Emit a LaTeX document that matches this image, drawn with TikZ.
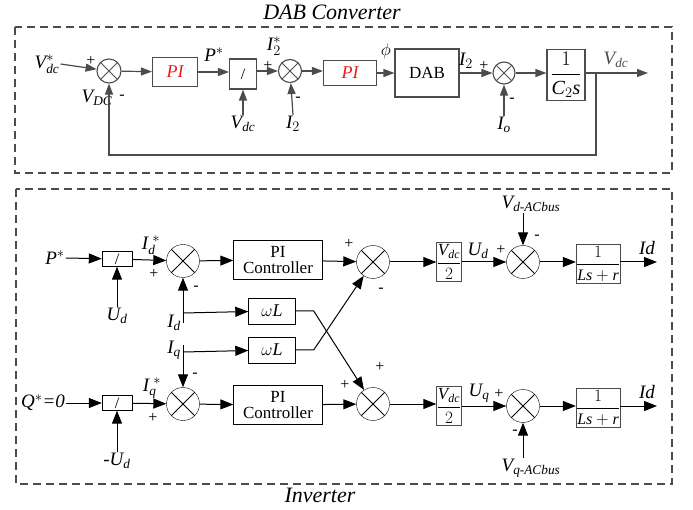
\documentclass[tikz,border=0pt]{standalone}
\usepackage{amsmath}
\usepackage{fontspec}
\setmainfont{Liberation Serif}
\usepackage{tikz}
\usetikzlibrary{arrows.meta,positioning,calc}
\definecolor{dgray}{rgb}{0.3,0.3,0.3}
\definecolor{pired}{rgb}{0.92,0.1,0.1}
\tikzset{
    sumnode/.style={
    circle,draw,inner sep=0pt,minimum size=#1,
    path picture={\draw[line width=0.8pt] (path picture bounding box.north west) -- (path picture bounding box.south east)
      (path picture bounding box.north east) -- (path picture bounding box.south west);}
    },
    blk/.style={
    rectangle,draw,inner sep=0pt,align=center
    },
    lbl/.style={inner sep=1pt,font=\fontsize{19}{21}\selectfont},
    sign/.style={inner sep=0pt,font=\fontsize{16}{17}\selectfont},
    title/.style={font=\fontsize{22}{24}\selectfont\itshape},
  gline/.style={draw=dgray, line width=1.2pt, -{Triangle[length=11pt,width=8pt]}},
  bline/.style={draw=black, line width=1pt, -{Triangle[length=13pt,width=10pt]}},
  frame/.style={draw=dgray, line width=1.3pt, dash pattern=on 8pt off 5pt},
}

\begin{document}
\begin{tikzpicture}[x=1pt,y=-1pt,font=\fontsize{16}{19}\selectfont]
\useasboundingbox (0,0) rectangle (693,510);

% frames and titles
\draw[frame] (15,27) rectangle (672,173);
\draw[frame] (16,189) rectangle (672,484);
\node[title] (ttop) at (332,12) {DAB Converter};
\node[title] (tbot) at (320,495) {Inverter};

% ---- DAB converter loop
\begin{scope}[every node/.append style={draw=dgray,line width=1.1pt}]
  \node[sumnode=24pt] (s1) at (109,71) {};
  \node[blk,minimum width=45pt,minimum height=29pt,text=pired,font=\fontsize{18}{20}\selectfont\itshape] (pi1) at (175,72) {PI};
  \node[blk,minimum width=27pt,minimum height=30pt] (div1) at (243,74) {/};
  \node[sumnode=23pt] (s2) at (290,71) {};
  \node[blk,minimum width=53pt,minimum height=25pt,text=pired,font=\fontsize{18}{20}\selectfont\itshape] (pi2) at (350,73) {PI};
  \node[blk,minimum width=64pt,minimum height=48pt,font=\fontsize{17}{19}\selectfont] (dab) at (427,73) {DAB};
  \node[sumnode=22pt] (s3) at (504,73) {};
  \node[blk,minimum width=38pt,minimum height=51pt,font=\fontsize{20}{22}\selectfont] (cs) at (566,75) {$\dfrac{1}{\textit{C}_{2}\textit{s}}$};
\end{scope}
\node[lbl] (vref) at (47,64) {$\textit{V}^{*}_{\textit{dc}}$};
\node[lbl] (vdc1) at (243,124) {$\textit{V}_{\textit{dc}}$};
\node[lbl] (i2) at (293,124) {$\textit{I}_{2}$};
\node[lbl] (io) at (504,125) {$\textit{I}_{\textit{o}}$};
\node[lbl] (pstar) at (214,55) {$\textit{P}^{*}$};
\node[lbl] (i2star) at (274,46) {$\textit{I}^{*}_{2}$};
\node[lbl] (phi) at (386,51) {$\phi$};
\node[lbl] (i2out) at (466,61) {$\textit{I}_{2}$};
\node[lbl,text=dgray] (vdcout) at (616,60) {$\textit{V}_{\textit{dc}}$};
\node[lbl] (vdcfb) at (97,98) {$\textit{V}_{\textit{DC}}$};
\node[sign] at (91,61) {+};
\node[sign] at (122,97) {-};
\node[sign] at (268,66) {+};
\node[sign] at (298,99) {-};
\node[sign] at (484,66) {+};
\node[sign] at (512,100) {-};
\coordinate (br) at (596,73);
\coordinate (vout) at (648,73);
\coordinate (fb) at (596,155);

\draw[gline] (vref.east) -- (s1);
\draw[gline] (s1) -- (pi1);
\draw[gline] (pi1) -- (div1.west |- pi1);
\draw[gline] (vdc1.north) -- (div1);
\draw[gline] (div1.east |- s2) -- (s2);
\draw[gline] (i2.north) -- (s2);
\draw[gline] (s2) -- (pi2.west |- s2);
\draw[gline] (pi2) -- (dab);
\draw[gline] (dab) -- (s3);
\draw[gline] (io.north) -- (s3);
\draw[gline] (s3) -- (cs.west |- s3);
\draw[gline] (cs.east |- s3) -- (vout);
\draw[gline] (br) -- (fb) -| (s1.south);

% ---- inverter current loops
\node[blk,minimum width=30pt,minimum height=15pt] (divd) at (117,259) {/};
\node[sumnode=33pt] (sd1) at (183,261) {};
\node[blk,minimum width=89pt,minimum height=39pt,font=\fontsize{17}{19}\selectfont] (pid) at (278,260) {PI\\[-3pt]Controller};
\node[sumnode=33pt] (sd2) at (373,262) {};
\node[blk,draw=dgray,minimum width=25pt,minimum height=39pt,font=\fontsize{17}{19}\selectfont] (vd2d) at (449,262) {$\dfrac{\textit{V}_{\textit{dc}}}{2}$};
\node[sumnode=33pt] (sd3) at (523,262) {};
\node[blk,draw=dgray,minimum width=39pt,minimum height=39pt] (lsd) at (598,264) {$\dfrac{1}{\textit{Ls}+\textit{r}}$};
\node[blk,minimum width=47pt,minimum height=26pt,font=\fontsize{18}{20}\selectfont] (wl1) at (272,311) {$\omega \textit{L}$};
\node[blk,minimum width=47pt,minimum height=26pt,font=\fontsize{18}{20}\selectfont] (wl2) at (272,350) {$\omega \textit{L}$};
\node[blk,minimum width=30pt,minimum height=15pt] (divq) at (117,403) {/};
\node[sumnode=33pt] (sq1) at (183,404) {};
\node[blk,minimum width=89pt,minimum height=39pt,font=\fontsize{17}{19}\selectfont] (piq) at (278,405) {PI\\[-3pt]Controller};
\node[sumnode=33pt] (sq2) at (373,404) {};
\node[blk,draw=dgray,minimum width=25pt,minimum height=39pt,font=\fontsize{17}{19}\selectfont] (vd2q) at (449,406) {$\dfrac{\textit{V}_{\textit{dc}}}{2}$};
\node[sumnode=33pt] (sq3) at (523,406) {};
\node[blk,draw=dgray,minimum width=39pt,minimum height=39pt] (lsq) at (598,408) {$\dfrac{1}{\textit{Ls}+\textit{r}}$};

\node[lbl] (pref) at (55,258) {$\textit{P}^{*}$};
\node[lbl] (ud) at (117,316) {$\textit{U}_{\textit{d}}$};
\node[lbl] (idstar) at (151,245) {$\textit{I}_{\textit{d}}^{\;*}$};
\node[lbl] (udout) at (478,251) {$\textit{U}_{\textit{d}}$};
\node[lbl] (vdac) at (531,204) {$\textit{V}_{\textit{d-ACbus}}$};
\node[lbl] (idout1) at (647,248) {\textit{Id}};
\node[lbl] (idl) at (174,323) {$\textit{I}_{\textit{d}}$};
\node[lbl] (iql) at (174,350) {$\textit{I}_{\textit{q}}$};
\node[lbl] (qref) at (43,403) {\textit{Q}$^{*}$\textit{=0}};
\node[lbl] (mud) at (117,461) {-$\textit{U}_{\textit{d}}$};
\node[lbl] (iqstar) at (152,388) {$\textit{I}_{\textit{q}}^{\;*}$};
\node[lbl] (uqout) at (479,393) {$\textit{U}_{\textit{q}}$};
\node[lbl] (vqac) at (531,468) {$\textit{V}_{\textit{q-ACbus}}$};
\node[lbl] (idout2) at (647,392) {\textit{Id}};

\node[sign] at (154,274) {+};
\node[sign] at (196,288) {-};
\node[sign] at (349,244) {+};
\node[sign] at (381,290) {-};
\node[sign] at (501,250) {+};
\node[sign] at (537,237) {-};
\node[sign] at (153,418) {+};
\node[sign] at (195,375) {-};
\node[sign] at (345,385) {+};
\node[sign] at (380,367) {+};
\node[sign] at (499,394) {+};
\node[sign] at (515,432) {-};

\coordinate (idb) at (183,323);
\coordinate (idj) at (183,313);
\coordinate (iqt) at (183,345);
\coordinate (iqj) at (183,352);
\coordinate (od) at (657,262);
\coordinate (oq) at (657,406);

\draw[bline] (pref.east) -- (divd);
\draw[bline] (ud.north) -- (divd);
\draw[bline] (divd) -- (sd1);
\draw[bline] (sd1) -- (pid);
\draw[bline] (pid) -- (sd2);
\draw[bline] (sd2) -- (vd2d);
\draw[bline] (vd2d) -- (sd3);
\draw[bline] (sd3 |- vdac.south) -- (sd3);
\draw[bline] (sd3) -- (lsd.west |- sd3);
\draw[bline] (lsd.east |- sd3) -- (od);
\draw[bline] (idb) -- (sd1);
\draw[bline] (idj) -- (wl1);
\draw[bline] (iqt) -- (sq1);
\draw[bline] (iqj) -- (wl2);
\draw[bline] (wl1.east) -- ++(18,0) -- (sq2);
\draw[bline] (wl2.east) -- ++(18,0) -- (sd2);
\draw[bline] (qref.east) -- (divq);
\draw[bline] (mud.north) -- (divq);
\draw[bline] (divq) -- (sq1);
\draw[bline] (sq1) -- (piq);
\draw[bline] (piq) -- (sq2);
\draw[bline] (sq2) -- (vd2q.west |- sq2);
\draw[bline] (vd2q.east |- sq3) -- (sq3);
\draw[bline] (sq3 |- vqac.north) -- (sq3);
\draw[bline] (sq3) -- (lsq.west |- sq3);
\draw[bline] (lsq.east |- sq3) -- (oq);
\end{tikzpicture}
\end{document}
